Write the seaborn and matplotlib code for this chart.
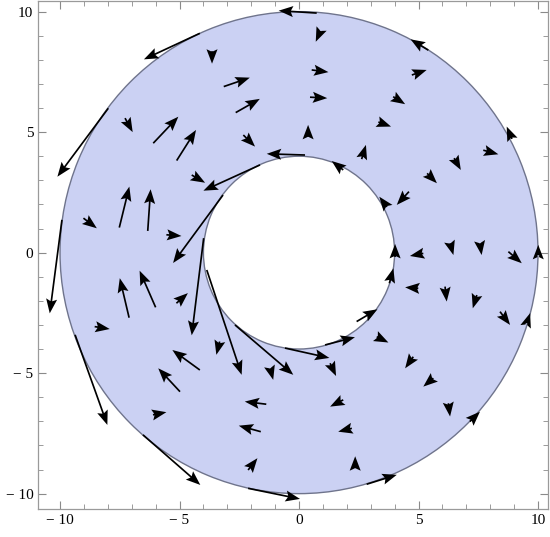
import numpy as np
import matplotlib
matplotlib.use("Agg")
import matplotlib.pyplot as plt
from matplotlib.patches import Wedge
import seaborn as sns

# arrow tails and tips (data units)
tail_x = [0.74, -4.15, -7.98, -3.64, -3.15, -2.65, -7.28, -6.10, -5.12, -2.33,
          0.25, -1.63, -4.49, -7.52, -6.33, -9.02, -5.55, -3.18, -9.92, -3.99,
          -7.11, -6.00, -5.13, -8.55, -3.86, -3.32, -4.15, -2.68, -1.21, -4.98,
          -9.37, -6.11, -1.37, -1.60, -2.13, -6.53, -2.13, -0.59, 1.09, 2.41,
          3.78, 4.02, 5.20, 6.32, 7.57, 8.76, 10.01, 4.99, 6.11, 7.44,
          8.41, 9.53, 3.25, 4.78, 1.30, 5.62, 1.85, 6.25, 7.15, 2.21,
          2.35, 2.83, 0.90, 0.53, 0.46, 0.38, 2.62, 3.94, 3.32, 4.72,
          5.41, 8.91, 7.71, 6.49, 5.36, 4.60, 3.68, 1.85]
tail_y = [9.94, 9.10, 5.99, 8.36, 6.89, 5.81, 5.58, 4.54, 3.82, 4.88,
          4.05, 3.64, 3.22, 1.04, 0.90, 1.43, 0.74, 2.39, 1.36, 0.60,
          -2.70, -2.27, -2.10, -3.07, -0.72, -3.69, -4.87, -3.00, -4.80, -5.77,
          -3.41, -6.73, -6.29, -7.43, -9.02, -7.56, -9.78, -3.96, -3.83, -2.86,
          -1.27, -0.18, -0.03, 0.39, 0.39, 0.04, -0.10, -1.48, -1.41, -1.76,
          -2.45, -2.93, -3.49, -4.32, -4.59, -5.21, -6.11, -6.25, -7.01, -7.29,
          -8.95, -9.61, 9.20, 7.58, 6.45, 4.80, 3.88, 6.47, 5.42, 7.37,
          8.40, 4.72, 4.25, 3.92, 3.29, 2.53, 1.90, 3.43]
tip_x = [-0.85, -6.49, -10.11, -3.64, -2.06, -1.64, -6.96, -5.05, -4.31, -1.84,
         -1.35, -4.00, -3.93, -7.10, -6.21, -8.46, -4.92, -5.27, -10.43, -4.49,
         -7.50, -6.67, -4.65, -7.92, -2.40, -3.46, -5.30, -0.24, -1.08, -5.89,
         -8.02, -5.55, -2.27, -2.52, -1.74, -4.13, 0.04, 1.27, 2.34, 3.28,
         3.95, 4.02, 4.64, 6.46, 7.64, 9.32, 10.01, 4.44, 6.18, 7.27,
         8.83, 9.67, 3.74, 4.44, 1.55, 5.20, 1.30, 6.32, 7.57, 1.64,
         2.35, 4.09, 0.70, 1.23, 1.18, 0.38, 2.80, 4.44, 3.85, 5.34,
         4.67, 8.69, 8.34, 6.77, 5.77, 4.09, 3.36, 1.37]
tip_y = [10.04, 8.02, 3.15, 7.84, 7.26, 6.38, 5.00, 5.64, 5.09, 4.40,
         4.10, 2.57, 2.90, 2.74, 2.63, 1.01, 0.69, -0.43, -2.52, -3.43,
         -1.06, -0.75, -1.68, -3.17, -5.07, -4.24, -4.04, -5.07, -5.28, -4.80,
         -7.15, -6.62, -6.18, -7.18, -8.53, -9.64, -10.22, -4.37, -3.51, -2.35,
         -0.65, 0.36, -0.14, -0.10, -0.10, -0.44, 0.32, -1.44, -2.03, -2.31,
         -3.00, -2.51, -3.73, -4.80, -5.12, -5.56, -6.39, -6.80, -6.60, -7.43,
         -8.45, -9.22, 8.75, 7.49, 6.41, 5.30, 4.47, 6.16, 5.23, 7.58,
         8.85, 5.23, 4.08, 3.43, 2.88, 1.98, 2.32, 3.80]

ticks = [-10, -5, 0, 5, 10]
tick_labels = ["\u2212 10", "\u2212 5", "0", "5", "10"]

sns.set_style("ticks")
plt.rcParams['font.family'] = ['Liberation Serif', 'DejaVu Serif']

fig = plt.figure(figsize=(5.5, 5.37), dpi=100)
ax = fig.add_axes([0.0696, 0.0516, 0.9273, 0.9474])

ring = Wedge((0, 0), 10, 0, 360, width=6, facecolor='#cbd1f3',
             edgecolor='#6f748c', linewidth=1.0)
ax.add_patch(ring)

tx = np.array(tail_x)
ty = np.array(tail_y)
u = np.array(tip_x) - tx
v = np.array(tip_y) - ty
ax.quiver(tx, ty, u, v, angles='xy', scale_units='xy', scale=1,
          units='dots', width=1.7, headwidth=6.5, headlength=8.5,
          headaxislength=7.2, minshaft=0.3, minlength=0.5,
          color='black', zorder=3)

ax.set_xlim(-10.91, 10.43)
ax.set_ylim(-10.65, 10.46)
ax.set_xticks(ticks)
ax.set_xticklabels(tick_labels)
ax.set_yticks(ticks)
ax.set_yticklabels(tick_labels)
ax.set_xticks(np.arange(-10, 11, 1), minor=True)
ax.set_yticks(np.arange(-10, 11, 1), minor=True)
ax.tick_params(which='both', direction='in', top=True, right=True,
               color='#8a8a8a', labelsize=11, labelcolor='black')
ax.tick_params(which='major', length=6, width=0.8)
ax.tick_params(which='minor', length=3.5, width=0.6)
for s in ax.spines.values():
    s.set_color('#9a9a9a')
    s.set_linewidth(0.9)

fig.savefig("out.png", dpi=100)
